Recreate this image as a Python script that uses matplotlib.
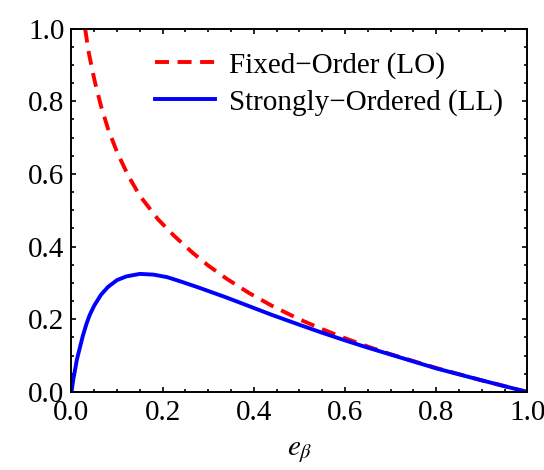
import matplotlib
matplotlib.use("Agg")
import matplotlib.pyplot as plt
from matplotlib.ticker import MultipleLocator

# values
lo_x = [0.03, 0.037, 0.045, 0.052, 0.065, 0.08, 0.1, 0.125, 0.15, 0.19, 0.225,
        0.265, 0.3, 0.34, 0.39, 0.44, 0.5, 0.55, 0.6, 0.65, 0.7, 0.8, 0.9, 1.0]
lo_y = [1.0, 0.94, 0.89, 0.85, 0.786, 0.725, 0.66, 0.594, 0.54, 0.475, 0.43,
        0.384, 0.348, 0.312, 0.272, 0.237, 0.2, 0.173, 0.148, 0.125, 0.104,
        0.066, 0.032, 0.0]

ll_x = [0.0, 0.004, 0.008, 0.012, 0.018, 0.025, 0.033, 0.04, 0.05, 0.065, 0.08,
        0.1, 0.12, 0.15, 0.18, 0.21, 0.24, 0.28, 0.34, 0.39, 0.44, 0.5, 0.55,
        0.6, 0.65, 0.7, 0.8, 0.9, 1.0]
ll_y = [0.0, 0.035, 0.062, 0.09, 0.12, 0.155, 0.188, 0.212, 0.238, 0.268,
        0.289, 0.308, 0.318, 0.325, 0.323, 0.316, 0.304, 0.287, 0.26, 0.236,
        0.212, 0.185, 0.163, 0.142, 0.122, 0.103, 0.065, 0.032, 0.0]

labels = ["Fixed\u2212Order (LO)", "Strongly\u2212Ordered (LL)"]

plt.rcParams["font.family"] = ["Liberation Serif", "DejaVu Serif"]
plt.rcParams["mathtext.fontset"] = "stix"

fig = plt.figure(figsize=(5.44, 4.70), dpi=100)
ax = fig.add_axes([0.1314, 0.166, 0.838, 0.773])

ax.plot(lo_x, lo_y, color=(1, 0, 0), lw=2.8, dashes=(3.6, 2.2),
        label=labels[0], solid_capstyle="butt")
ax.plot(ll_x, ll_y, color=(0, 0, 1), lw=2.8, label=labels[1])

ax.set_xlim(0, 1)
ax.set_ylim(0, 1)
ax.xaxis.set_major_locator(MultipleLocator(0.2))
ax.yaxis.set_major_locator(MultipleLocator(0.2))
ax.xaxis.set_minor_locator(MultipleLocator(0.05))
ax.yaxis.set_minor_locator(MultipleLocator(0.05))
ax.xaxis.set_major_formatter(lambda v, p: f"{v:.1f}")
ax.yaxis.set_major_formatter(lambda v, p: f"{v:.1f}")
ax.tick_params(which="both", direction="in", top=True, right=True,
               labelsize=21, width=1.2, colors="black")
ax.tick_params(which="major", length=3.4)
ax.tick_params(which="minor", length=2)
ax.tick_params(axis="x", which="major", pad=6)
ax.tick_params(axis="y", which="major", pad=5)
for s in ax.spines.values():
    s.set_linewidth(1.4)

ax.set_xlabel(r"$e_\beta$", fontsize=21, labelpad=9)

ax.legend(loc="upper left", bbox_to_anchor=(0.138, 0.993), frameon=False,
          fontsize=21, handlelength=2.05, handletextpad=0.5, labelspacing=0.35,
          borderaxespad=0.3)

fig.savefig("out.png", dpi=100)
